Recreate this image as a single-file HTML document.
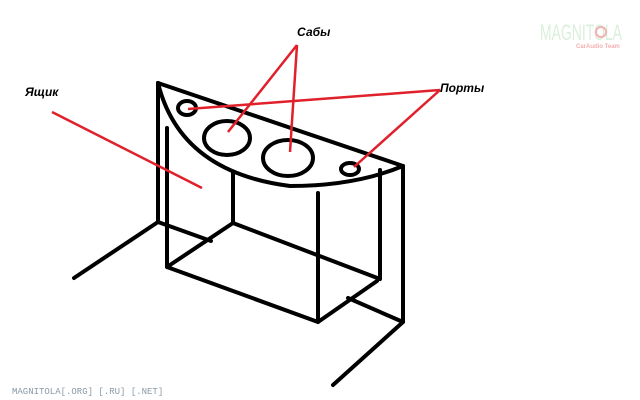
<!DOCTYPE html>
<html><head><meta charset="utf-8"><style>
html,body{margin:0;padding:0;background:#fff;width:640px;height:400px;overflow:hidden}
svg{display:block}
</style></head><body>
<svg width="640" height="400" viewBox="0 0 640 400" xmlns="http://www.w3.org/2000/svg">
<g stroke="#000" stroke-width="4" fill="none" stroke-linecap="round" stroke-linejoin="round">
<path d="M158,83 L403,166"/>
<path d="M158,83 Q180,172 290,186 Q355,186 403,166"/>
<path d="M158,83 L158,222 L74,278"/>
<path d="M158,222 L211,241"/>
<path d="M167,128 L167,267 L318,322 L318,193"/>
<path d="M233,172 L233,223 L380,279 L380,170"/>
<path d="M233,223 L167,267"/>
<path d="M318,322 L377,281"/>
<path d="M403,166 L403,322 L333,385"/>
<path d="M348,298 L403,322"/>
<ellipse cx="187" cy="108" rx="9" ry="7"/>
<ellipse cx="227" cy="138" rx="23" ry="17"/>
<ellipse cx="288" cy="158" rx="25" ry="18"/>
<ellipse cx="350" cy="169" rx="9" ry="6"/>
</g>
<g stroke="#e0202a" stroke-width="2.5" fill="none">
<path d="M297,45 L228,132"/>
<path d="M297,45 L290,152"/>
<path d="M440,90 L188,109"/>
<path d="M440,90 L354,167"/>
<path d="M52,112 L202,188"/>
</g>
<g font-family="Liberation Sans, DejaVu Sans, sans-serif" font-weight="bold" font-style="italic" font-size="12" fill="#000">
<text x="297" y="36">Сабы</text>
<text x="440" y="92">Порты</text>
<text x="25" y="96">Ящик</text>
</g>
<text x="540" y="40" textLength="82" lengthAdjust="spacingAndGlyphs" font-family="Liberation Sans, sans-serif" font-size="22" fill="#dcefdc">MAGNITOLA</text>
<circle cx="601" cy="32" r="5" fill="none" stroke="#f4b0b0" stroke-width="2"/>
<text x="576" y="48" font-family="Liberation Sans, sans-serif" font-size="6" font-weight="bold" fill="#f4b0b0">CarAudio Team</text>
<text x="12" y="394" font-family="Liberation Mono, monospace" font-size="9" fill="#8a9aa8">MAGNITOLA[.ORG] [.RU] [.NET]</text>
</svg>
</body></html>
